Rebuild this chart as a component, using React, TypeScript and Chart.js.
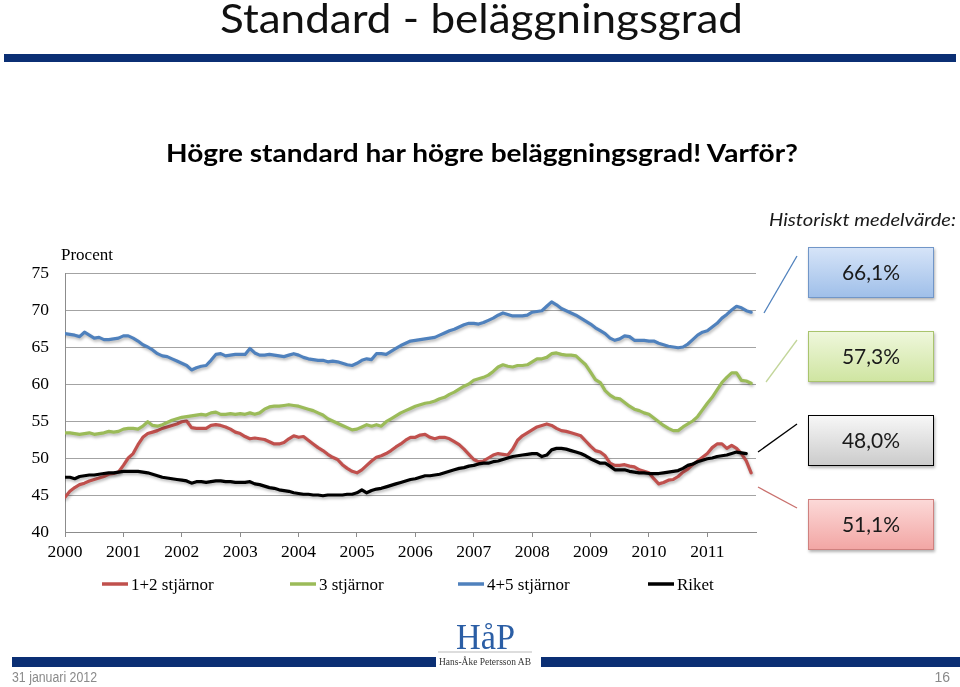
import React, { useEffect, useRef } from "react";
import { Chart, registerables } from "chart.js";

Chart.register(...registerables);

// ---------- DATA ----------
const START_YEAR = 2000;
const MONTHS_ON_AXIS = 142;
const yearTicks = [2000, 2001, 2002, 2003, 2004, 2005, 2006, 2007, 2008, 2009, 2010, 2011];
const seriesNames = ["1+2 stjärnor", "3 stjärnor", "4+5 stjärnor", "Riket"];
const seriesColors = ["#C0504D", "#9BBB59", "#4F81BD", "#000000"];
const averageLabels = ["66,1%", "57,3%", "48,0%", "51,1%"];

// monthly values, Jan 2000 - Oct 2011
const stars12 = [
  44.7, 45.5, 46.0, 46.4, 46.6, 46.9, 47.1, 47.3, 47.5, 47.8, 47.9, 48.1,
  49.0, 50.0, 50.6, 51.8, 52.8, 53.3, 53.5, 53.7, 54.0, 54.2, 54.4, 54.6,
  54.9, 55.0, 54.1, 54.0, 54.0, 54.0, 54.4, 54.5, 54.4, 54.2, 53.9, 53.5,
  53.3, 52.9, 52.6, 52.7, 52.6, 52.5, 52.2, 51.9, 51.9, 52.1, 52.6, 53.0,
  52.8, 52.9, 52.4, 51.9, 51.4, 51.0, 50.5, 50.1, 49.8, 49.1, 48.6, 48.2,
  48.0, 48.4, 49.0, 49.6, 50.1, 50.3, 50.6, 51.0, 51.5, 51.9, 52.4, 52.8,
  52.8, 53.1, 53.2, 52.8, 52.6, 52.8, 52.8, 52.6, 52.2, 51.8, 51.2, 50.5,
  49.8, 49.5, 49.6, 50.0, 50.4, 50.6, 50.5, 50.4, 51.2, 52.4, 53.0, 53.4,
  53.8, 54.2, 54.4, 54.6, 54.4, 54.0, 53.7, 53.6, 53.4, 53.2, 53.0, 52.3,
  51.6, 51.0, 50.8, 50.3, 49.3, 49.0, 49.0, 49.1, 48.9, 48.8, 48.4, 48.2,
  48.0, 47.2, 46.5, 46.7, 47.0, 47.1, 47.5, 48.1, 48.5, 49.1, 49.6, 50.1,
  50.6, 51.4, 51.9, 51.9, 51.3, 51.7, 51.3, 50.6, 49.6, 48.0,
];

const stars3 = [
  53.4, 53.4, 53.3, 53.2, 53.3, 53.4, 53.2, 53.3, 53.4, 53.6, 53.5, 53.6,
  53.9, 54.0, 54.0, 53.9, 54.3, 54.9, 54.4, 54.3, 54.5, 54.8, 55.1, 55.3,
  55.5, 55.6, 55.7, 55.8, 55.9, 55.8, 56.1, 56.2, 55.9, 55.9, 56.0, 55.9,
  56.0, 55.9, 56.1, 55.9, 56.1, 56.6, 56.9, 57.0, 57.0, 57.1, 57.2, 57.1,
  57.0, 56.8, 56.6, 56.4, 56.1, 55.8, 55.3, 55.0, 54.7, 54.4, 54.1, 53.8,
  53.9, 54.2, 54.5, 54.3, 54.5, 54.3, 54.9, 55.3, 55.7, 56.1, 56.4, 56.7,
  57.0, 57.2, 57.4, 57.5, 57.7, 58.0, 58.2, 58.6, 58.9, 59.3, 59.7, 60.0,
  60.5, 60.7, 60.9, 61.2, 61.7, 62.3, 62.6, 62.4, 62.3, 62.5, 62.5, 62.6,
  63.0, 63.4, 63.4, 63.6, 64.1, 64.2, 64.0, 63.9, 63.9, 63.8, 63.2, 62.6,
  61.6, 60.6, 60.2, 59.1, 58.5, 58.1, 58.0, 57.5, 57.0, 56.6, 56.4, 56.1,
  55.9, 55.4, 54.9, 54.4, 54.0, 53.7, 53.7, 54.2, 54.6, 55.0, 55.6, 56.5,
  57.4, 58.2, 59.2, 60.2, 60.9, 61.5, 61.5, 60.5, 60.4, 60.1,
];

const stars45 = [
  66.8, 66.7, 66.6, 66.4, 67.0, 66.6, 66.2, 66.3, 66.0, 66.0, 66.1, 66.2,
  66.5, 66.5, 66.2, 65.8, 65.3, 65.0, 64.6, 64.1, 63.8, 63.7, 63.4, 63.1,
  62.8, 62.5, 61.9, 62.2, 62.4, 62.5, 63.2, 64.0, 64.1, 63.8, 63.9, 64.0,
  64.0, 64.0, 64.8, 64.2, 63.9, 63.9, 64.0, 63.9, 63.8, 63.7, 63.9, 64.1,
  63.9, 63.6, 63.4, 63.3, 63.2, 63.2, 63.0, 63.1, 63.0, 62.8, 62.6, 62.5,
  62.8, 63.2, 63.4, 63.3, 64.1, 64.1, 64.0, 64.4, 64.8, 65.2, 65.5, 65.8,
  65.9, 66.0, 66.1, 66.2, 66.3, 66.6, 66.9, 67.2, 67.4, 67.7, 68.0, 68.2,
  68.2, 68.1, 68.3, 68.6, 68.9, 69.3, 69.6, 69.4, 69.2, 69.2, 69.2, 69.3,
  69.7, 69.8, 69.9, 70.5, 71.1, 70.7, 70.2, 69.9, 69.6, 69.3, 68.9, 68.5,
  68.1, 67.6, 67.2, 66.8, 66.2, 65.9, 66.1, 66.5, 66.4, 65.9, 65.9, 65.9,
  65.8, 65.8, 65.5, 65.3, 65.1, 65.0, 64.9, 65.0, 65.4, 66.0, 66.6, 67.0,
  67.2, 67.7, 68.2, 68.9, 69.4, 70.0, 70.5, 70.3, 69.9, 69.7,
];

const riket = [
  47.4, 47.4, 47.2, 47.5, 47.6, 47.7, 47.7, 47.8, 47.9, 48.0, 48.0, 48.1,
  48.2, 48.2, 48.2, 48.2, 48.1, 48.0, 47.8, 47.6, 47.4, 47.3, 47.2, 47.1,
  47.0, 46.9, 46.6, 46.8, 46.8, 46.7, 46.8, 46.9, 46.9, 46.8, 46.8, 46.7,
  46.7, 46.7, 46.8, 46.5, 46.4, 46.2, 46.0, 45.9, 45.7, 45.6, 45.5, 45.3,
  45.2, 45.1, 45.1, 45.0, 45.0, 44.9, 45.0, 45.0, 45.0, 45.0, 45.1, 45.1,
  45.3, 45.7, 45.3, 45.6, 45.8, 45.9, 46.1, 46.3, 46.5, 46.7, 46.9, 47.1,
  47.2, 47.4, 47.6, 47.6, 47.7, 47.8, 48.0, 48.2, 48.4, 48.6, 48.7, 48.9,
  49.0, 49.2, 49.3, 49.3, 49.5, 49.6, 49.8, 50.0, 50.2, 50.3, 50.4, 50.5,
  50.6, 50.6, 50.2, 50.4, 51.1, 51.3, 51.3, 51.2, 51.0, 50.8, 50.6, 50.3,
  49.9, 49.6, 49.3, 49.3, 48.9, 48.4, 48.4, 48.4, 48.2, 48.1, 48.0, 48.0,
  47.9, 47.9, 47.9, 48.0, 48.1, 48.2, 48.3, 48.6, 49.0, 49.2, 49.5, 49.7,
  49.9, 50.0, 50.2, 50.3, 50.4, 50.6, 50.8, 50.7, 50.6,
];

const seriesValues = [stars12, stars3, stars45, riket];

// ---------- STYLE / LAYOUT ----------
const NAVY = "#0B2F74";
const SERIF = "'Liberation Serif', 'Times New Roman', serif";
const SANS = "Lato, 'Open Sans', sans-serif";
const legendX = [102, 290, 458, 648];
const boxTops = [247, 331, 415, 499];
const boxFills = [
  ["#d6e4f8", "#9fbfe9", "#7196c8"],
  ["#eff7dc", "#cfe5a1", "#a9c46d"],
  ["#f7f7f7", "#cbcbcb", "#000000"],
  ["#fcd9d8", "#f2a6a4", "#cf817f"],
];
const connectors = [
  [764, 313, 797, 256, "#4F81BD"],
  [766, 382, 797, 340, "#c3d69b"],
  [758, 452, 797, 424, "#000000"],
  [758, 487, 797, 508, "#c9706d"],
];

const toPoints = (arr: number[]) => arr.map((y, i) => ({ x: START_YEAR + i / 12, y }));

const shadowPlugin = {
  id: "lineShadow",
  beforeDatasetsDraw(chart: any) {
    const ctx = chart.ctx;
    ctx.save();
    ctx.shadowColor = "rgba(0,0,0,0.28)";
    ctx.shadowBlur = 3;
    ctx.shadowOffsetX = 1;
    ctx.shadowOffsetY = 2;
  },
  afterDatasetsDraw(chart: any) {
    chart.ctx.restore();
  },
};

function LineChart() {
  const ref = useRef<HTMLCanvasElement | null>(null);
  useEffect(() => {
    if (!ref.current) return;
    const chart = new Chart(ref.current, {
      type: "line",
      data: {
        datasets: seriesValues.map((vals, k) => ({
          label: seriesNames[k],
          data: toPoints(vals),
          borderColor: seriesColors[k],
          backgroundColor: seriesColors[k],
          borderWidth: 3.2,
          pointRadius: 0,
          tension: 0,
          borderJoinStyle: "round" as const,
          borderCapStyle: "round" as const,
          order: 3 - k,
        })),
      },
      options: {
        responsive: false,
        animation: false,
        layout: { padding: { top: 33, right: 4, bottom: 18, left: 0 } },
        plugins: { legend: { display: false }, tooltip: { enabled: false }, title: { display: false } },
        scales: {
          x: {
            type: "linear",
            min: START_YEAR,
            max: START_YEAR + MONTHS_ON_AXIS / 12,
            afterBuildTicks: (axis: any) => {
              axis.ticks = yearTicks.map((v) => ({ value: v }));
            },
            afterFit: (s: any) => {
              s.height = 30;
            },
            ticks: {
              callback: (v: any) => String(v),
              color: "#000",
              font: { family: SERIF, size: 17.5 },
              padding: 5,
              maxRotation: 0,
              autoSkip: false,
            },
            grid: { drawOnChartArea: false, drawTicks: true, tickLength: 5, color: "#8c8c8c" },
            border: { display: true, color: "#8c8c8c" },
          },
          y: {
            min: 40,
            max: 75,
            afterFit: (s: any) => {
              s.width = 65;
            },
            ticks: { stepSize: 5, padding: 16, color: "#000", font: { family: SERIF, size: 17.5 } },
            grid: { color: "#a3a3a3", drawTicks: false },
            border: { display: true, color: "#8c8c8c" },
          },
        },
      },
      plugins: [shadowPlugin],
    });
    return () => chart.destroy();
  }, []);
  return (
    <canvas
      ref={ref}
      width={760}
      height={340}
      style={{ position: "absolute", left: 0, top: 240, width: 760, height: 340, display: "block" }}
    />
  );
}

export default function App() {
  return (
    <div
      style={{
        position: "fixed",
        left: 0,
        top: 0,
        width: 960,
        height: 687,
        background: "#fff",
        overflow: "hidden",
      }}
    >
      <LineChart />
      <svg
        width={960}
        height={687}
        style={{ position: "absolute", left: 0, top: 0, pointerEvents: "none" }}
      >
        <defs>
          {boxFills.map((f, k) => (
            <linearGradient key={k} id={`g${k}`} x1="0" y1="0" x2="0" y2="1">
              <stop offset="0" stopColor={f[0]} />
              <stop offset="1" stopColor={f[1]} />
            </linearGradient>
          ))}
          <filter id="sh" x="-10%" y="-10%" width="130%" height="140%">
            <feDropShadow dx="1" dy="2" stdDeviation="1.5" floodColor="#000" floodOpacity="0.3" />
          </filter>
        </defs>

        {/* header */}
        <text x={220} y={33} fontFamily={SANS} fontSize={40} fill="#111" textLength={523} lengthAdjust="spacingAndGlyphs">
          Standard - beläggningsgrad
        </text>
        <rect x={4} y={54} width={952} height={8} fill={NAVY} />
        <text x={166} y={162} fontFamily={SANS} fontWeight="bold" fontSize={24} fill="#000" textLength={632} lengthAdjust="spacingAndGlyphs">
          Högre standard har högre beläggningsgrad! Varför?
        </text>

        {/* axis caption */}
        <text x={61} y={259.5} fontFamily={SERIF} fontSize={17} fill="#000">
          Procent
        </text>

        {/* right side */}
        <text x={769} y={226} fontFamily={SANS} fontStyle="italic" fontSize={18} fill="#1a1a1a" textLength={187} lengthAdjust="spacingAndGlyphs">
          Historiskt medelvärde:
        </text>
        {connectors.map((c, k) => (
          <line key={k} x1={c[0] as number} y1={c[1] as number} x2={c[2] as number} y2={c[3] as number} stroke={c[4] as string} strokeWidth={1.3} />
        ))}
        {boxTops.map((t, k) => (
          <g key={k}>
            <rect x={808.5} y={t + 0.5} width={125} height={50} fill={`url(#g${k})`} stroke={boxFills[k][2]} strokeWidth={1} filter="url(#sh)" />
            <text x={871} y={t + 33} textAnchor="middle" fontFamily={SANS} fontSize={21} fill="#1a1a1a">
              {averageLabels[k]}
            </text>
          </g>
        ))}

        {/* legend */}
        {seriesNames.map((name, k) => (
          <g key={k}>
            <line x1={legendX[k]} y1={584} x2={legendX[k] + 26} y2={584} stroke={seriesColors[k]} strokeWidth={3.5} />
            <text x={legendX[k] + 29} y={590} fontFamily={SERIF} fontSize={17} fill="#000">
              {name}
            </text>
          </g>
        ))}

        {/* footer */}
        <text x={456} y={649} fontFamily={SERIF} fontSize={35} fill="#2B5EA5" textLength={59} lengthAdjust="spacingAndGlyphs">
          HåP
        </text>
        <line x1={438} y1={652} x2={532} y2={652} stroke="#aaa" strokeWidth={0.8} />
        <rect x={12} y={657} width={424} height={10} fill={NAVY} />
        <rect x={541} y={657} width={419} height={10} fill={NAVY} />
        <text x={439} y={665} fontFamily={SERIF} fontSize={10.5} fill="#333" textLength={92} lengthAdjust="spacingAndGlyphs">
          Hans-Åke Petersson AB
        </text>
        <text x={12} y={682} fontFamily="'Liberation Sans', Arial, sans-serif" fontSize={14} fill="#8a8a8a" textLength={85} lengthAdjust="spacingAndGlyphs">
          31 januari 2012
        </text>
        <text x={950} y={682} textAnchor="end" fontFamily="'Liberation Sans', Arial, sans-serif" fontSize={14} fill="#8a8a8a">
          16
        </text>
      </svg>
    </div>
  );
}
